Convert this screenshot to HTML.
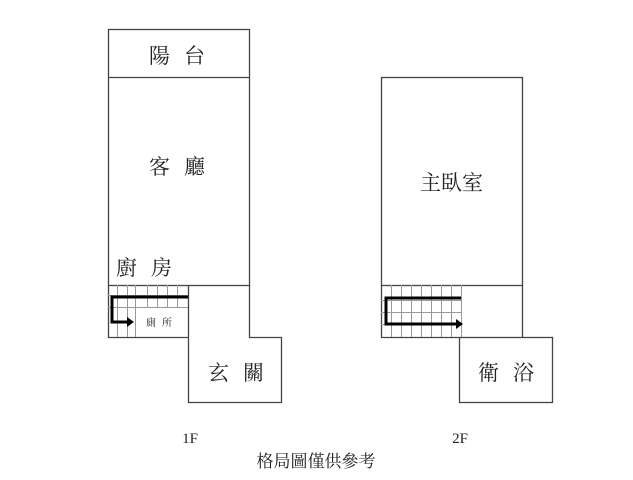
<!DOCTYPE html>
<html><head><meta charset="utf-8"><style>
html,body{margin:0;padding:0;background:#fff;width:633px;height:480px;overflow:hidden}
svg text{font-family:"Liberation Serif","Noto Serif CJK SC","Noto Sans CJK TC",serif;fill:#222}
</style></head><body>
<svg width="633" height="480" viewBox="0 0 633 480" xmlns="http://www.w3.org/2000/svg">
<g fill="none" stroke="#444" stroke-width="1.3">
<rect x="108.5" y="29.5" width="141" height="256"/>
<line x1="108.5" y1="77.5" x2="249.5" y2="77.5"/>
<polyline points="108.5,285.5 108.5,337.5 188.5,337.5"/>
<polyline points="188.5,285.5 188.5,402.5 281.5,402.5 281.5,337.5 249.5,337.5 249.5,285.5"/>
<rect x="381.5" y="77.5" width="141" height="208"/>
<polyline points="381.5,285.5 381.5,337.5 459.5,337.5"/>
<line x1="522.5" y1="285.5" x2="522.5" y2="337.5"/>
<rect x="459.5" y="337.5" width="93" height="65"/>
</g>
<g stroke="#999" stroke-width="1">
<line x1="108" y1="295.5" x2="188" y2="295.5"/>
<line x1="108" y1="307.5" x2="188" y2="307.5"/>
<line x1="117.5" y1="285" x2="117.5" y2="337"/>
<line x1="127.5" y1="285" x2="127.5" y2="337"/>
<line x1="135.5" y1="285" x2="135.5" y2="337"/>
<line x1="147.5" y1="285" x2="147.5" y2="307"/>
<line x1="157.5" y1="285" x2="157.5" y2="307"/>
<line x1="167.5" y1="285" x2="167.5" y2="307"/>
<line x1="177.5" y1="285" x2="177.5" y2="307"/>
<line x1="381" y1="300.5" x2="461" y2="300.5"/>
<line x1="381" y1="312.5" x2="461" y2="312.5"/>
<line x1="381" y1="324.5" x2="461" y2="324.5"/>
<line x1="391.5" y1="285" x2="391.5" y2="337"/>
<line x1="401.5" y1="285" x2="401.5" y2="337"/>
<line x1="411.5" y1="285" x2="411.5" y2="337"/>
<line x1="421.5" y1="285" x2="421.5" y2="337"/>
<line x1="431.5" y1="285" x2="431.5" y2="337"/>
<line x1="441.5" y1="285" x2="441.5" y2="337"/>
<line x1="451.5" y1="285" x2="451.5" y2="337"/>
<line x1="461.5" y1="285" x2="461.5" y2="337"/>
</g>
<g fill="none" stroke="#000" stroke-width="3">
<polyline points="188,297 112,297 112,322 128,322"/>
<polyline points="461,298 386,298 386,324 457,324"/>
</g>
<polygon points="127,317 134,322 127,327" fill="#000"/>
<polygon points="456,319 463,324 456,329" fill="#000"/>
<g font-size="21">
<text x="149" y="63" letter-spacing="14">陽台</text>
<text x="149" y="174" letter-spacing="14">客廳</text>
<text x="116" y="275" letter-spacing="14">廚房</text>
<text x="420" y="190">主臥室</text>
<text x="208" y="380" letter-spacing="14">玄關</text>
<text x="478" y="380" letter-spacing="14">衛浴</text>
</g>
<text x="146" y="326" font-size="10" letter-spacing="6">廁所</text>
<g font-size="15" text-anchor="middle">
<text x="190" y="443">1F</text>
<text x="460" y="443">2F</text>
<text x="316" y="467" font-size="17">格局圖僅供參考</text>
</g>
</svg>
</body></html>
